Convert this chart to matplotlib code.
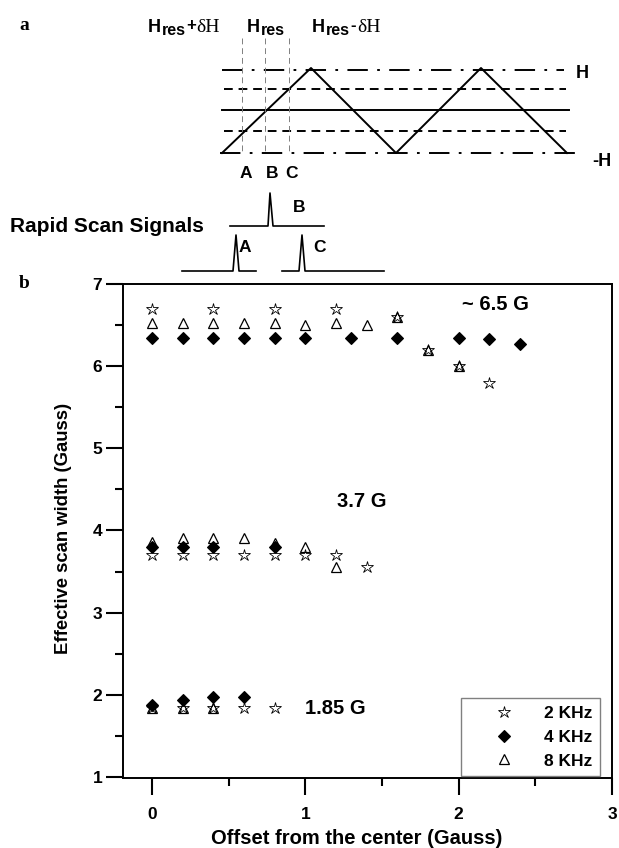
import matplotlib.pyplot as plt
from matplotlib.ticker import MultipleLocator

plt.rcParams['font.family'] = ['Liberation Sans', 'DejaVu Sans']

# ---- panel b data (offset in Gauss, effective scan width in Gauss) ----
x_2k = [0, 0.4, 0.8, 1.2, 1.6, 1.8, 2.0, 2.2,
        0, 0.2, 0.4, 0.6, 0.8, 1.0, 1.2, 1.4,
        0, 0.2, 0.4, 0.6, 0.8]
y_2k = [6.7, 6.7, 6.7, 6.7, 6.6, 6.2, 6.0, 5.8,
        3.7, 3.7, 3.7, 3.7, 3.7, 3.7, 3.7, 3.55,
        1.84, 1.84, 1.84, 1.84, 1.84]

x_4k = [0, 0.2, 0.4, 0.6, 0.8, 1.0, 1.3, 1.6, 2.0, 2.2, 2.4,
        0, 0.2, 0.4, 0.8,
        0, 0.2, 0.4, 0.6]
y_4k = [6.35, 6.35, 6.35, 6.35, 6.35, 6.35, 6.35, 6.35, 6.35, 6.33, 6.27,
        3.8, 3.8, 3.8, 3.8,
        1.87, 1.94, 1.97, 1.97]

x_8k = [0, 0.2, 0.4, 0.6, 0.8, 1.0, 1.2, 1.4, 1.6, 1.8, 2.0,
        0, 0.2, 0.4, 0.6, 0.8, 1.0, 1.2,
        0, 0.2, 0.4]
y_8k = [6.53, 6.53, 6.53, 6.53, 6.53, 6.51, 6.53, 6.51, 6.6, 6.2, 6.0,
        3.86, 3.91, 3.91, 3.91, 3.85, 3.80, 3.56,
        1.84, 1.84, 1.84]

series_labels = ['2 KHz', '4 KHz', '8 KHz']
group_labels = ['~ 6.5 G', '3.7 G', '1.85 G']

# ---- panel a schematic (figure pixel coordinates) ----
wave_x = [222, 311, 396, 481, 567]
wave_y = [153, 68, 153, 68, 153]
level_y = [70, 89, 110, 131, 153]
level_x0 = [222, 224, 222, 224, 220]
level_x1 = [564, 566, 569, 566, 578]
res_x = [242, 265, 289]
sig_b_x = [230, 268, 270, 273, 324]
sig_b_y = [226, 226, 193, 226, 226]
sig_a_x = [182, 233, 236, 239, 256]
sig_a_y = [271, 271, 235, 271, 271]
sig_c_x = [282, 299, 302, 305, 384]
sig_c_y = [271, 271, 235, 271, 271]

fig = plt.figure(figsize=(6.19, 8.48), dpi=100)

sk = fig.add_axes([0, 0, 1, 1])
sk.set_xlim(0, 619)
sk.set_ylim(848, 0)
sk.axis('off')

dashdot = (0, (10.5, 4.8, 1.4, 4.8))
dashed = (0, (4.5, 3))
level_styles = [dashdot, dashed, '-', dashed, dashdot]
for y, x0, x1, ls in zip(level_y, level_x0, level_x1, level_styles):
    sk.plot([x0, x1], [y, y], color='black', lw=1.4, ls=ls)
sk.plot(wave_x, wave_y, color='black', lw=1.4)
for x in res_x:
    sk.plot([x, x], [38, 153], color='gray', lw=0.7, ls=(0, (6, 4)))
for sx, sy in [(sig_b_x, sig_b_y), (sig_a_x, sig_a_y), (sig_c_x, sig_c_y)]:
    sk.plot(sx, sy, color='black', lw=1.2)

bold = dict(fontweight='bold', color='black')
serif = dict(family='Liberation Serif', fontsize=14, color='black', va='baseline')
sk.text(24, 26, 'a', fontsize=14, fontweight='bold', family='Liberation Serif',
        ha='center', va='center')
sk.text(24, 283, 'b', fontsize=14, fontweight='bold', family='Liberation Serif',
        ha='center', va='center')
# H_res labels built from pieces: H, subscript res, sign, serif dH
for hx, sign, sign_w in [(148, '+', 10), (247, '', 0), (312, '-', 7)]:
    sk.text(hx, 32, 'H', fontsize=13, va='baseline', **bold)
    sk.text(hx + 13.5, 35, 'res', fontsize=11.5, va='baseline', **bold)
    if sign:
        sk.text(hx + 38, 30, sign, fontsize=12, va='baseline', **bold)
        sk.text(hx + 38 + sign_w, 32, 'δH', **serif)
sk.text(576, 73, 'H', fontsize=13, va='center', **bold)
sk.text(592, 162, '-H', fontsize=13, va='center', **bold)
for lab, x in zip(['A', 'B', 'C'], [246, 272, 292]):
    sk.text(x, 174, lab, fontsize=12.5, ha='center', va='center', **bold)
sk.text(299, 208, 'B', fontsize=12.5, ha='center', va='center', **bold)
sk.text(245, 247, 'A', fontsize=12.5, ha='center', va='center', **bold)
sk.text(320, 247, 'C', fontsize=12.5, ha='center', va='center', **bold)
sk.text(10, 226, 'Rapid Scan Signals', fontsize=15, va='center', **bold)

# ---- panel b ----
ax = fig.add_axes([0.1987, 0.0822, 0.79, 0.5825])
ax.plot(x_2k, y_2k, ls='none', marker='*', ms=9, mfc='none', mec='black',
        mew=0.6, label=series_labels[0], zorder=3)
ax.plot(x_4k, y_4k, ls='none', marker='D', ms=6, mfc='black', mec='black',
        mew=0.8, label=series_labels[1], zorder=5)
ax.plot(x_8k, y_8k, ls='none', marker='^', ms=7, mfc='none', mec='black',
        mew=0.9, label=series_labels[2], zorder=4)

ax.set_xlim(-0.19, 3.0)
ax.set_ylim(0.98, 7.0)
ax.xaxis.set_major_locator(MultipleLocator(1))
ax.xaxis.set_minor_locator(MultipleLocator(0.5))
ax.yaxis.set_major_locator(MultipleLocator(1))
ax.yaxis.set_minor_locator(MultipleLocator(0.5))
ax.tick_params(which='major', direction='out', length=12, width=1.5,
               labelsize=12.5)
ax.tick_params(which='minor', direction='out', length=6, width=1.5)
ax.tick_params(axis='x', which='major', pad=9)
ax.tick_params(axis='y', which='major', pad=3)
for lab in ax.get_xticklabels() + ax.get_yticklabels():
    lab.set_fontweight('bold')
for sp in ax.spines.values():
    sp.set_linewidth(1.4)

ax.set_xlabel('Offset from the center (Gauss)', fontsize=14.5, fontweight='bold')
ax.set_ylabel('Effective scan width (Gauss)', fontsize=13.3, fontweight='bold')
ax.xaxis.set_label_coords(0.478, -0.102)
ax.yaxis.set_label_coords(-0.104, 0.505)

ax.text(2.24, 6.75, group_labels[0], fontsize=14.5, fontweight='bold',
        ha='center', va='center')
ax.text(1.37, 4.35, group_labels[1], fontsize=14.5, fontweight='bold',
        ha='center', va='center')
ax.text(1.0, 1.83, group_labels[2], fontsize=14.5, fontweight='bold',
        ha='left', va='center')

leg = ax.legend(loc='lower right', bbox_to_anchor=(0.975, 0.004),
                borderaxespad=0, fancybox=False, edgecolor='gray',
                framealpha=1, handlelength=4, handletextpad=0.3,
                borderpad=0.45, numpoints=1,
                prop={'weight': 'bold', 'size': 12.5})
leg.get_frame().set_linewidth(1.0)

fig.savefig('out.png', dpi=100)
